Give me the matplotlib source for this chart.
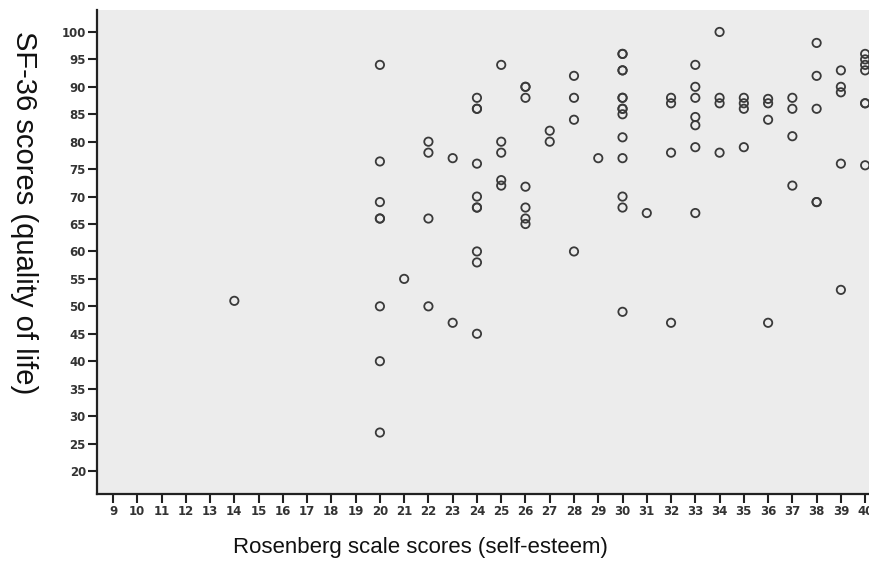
import matplotlib
matplotlib.use("Agg")
import matplotlib.pyplot as plt

plt.rcParams['font.family'] = ['Liberation Sans', 'DejaVu Sans']

# Rosenberg scale scores (x) and SF-36 scores (y), one entry per subject
rosenberg = [
    14,
    20, 20, 20, 20, 20, 20, 20, 20,
    21,
    22, 22, 22, 22,
    23, 23,
    24, 24, 24, 24, 24, 24, 24, 24, 24, 24,
    25, 25, 25, 25, 25,
    26, 26, 26, 26, 26, 26, 26,
    27, 27,
    28, 28, 28, 28,
    29,
    30, 30, 30, 30, 30, 30, 30, 30, 30, 30, 30, 30, 30, 30,
    31,
    32, 32, 32, 32,
    33, 33, 33, 33, 33, 33, 33,
    34, 34, 34, 34,
    35, 35, 35, 35,
    36, 36, 36, 36,
    37, 37, 37, 37,
    38, 38, 38, 38, 38,
    39, 39, 39, 39, 39,
    40, 40, 40, 40, 40, 40, 40,
]
sf36 = [
    51,
    94, 76.4, 69, 66, 66, 50, 40, 27,
    55,
    80, 78, 66, 50,
    77, 47,
    88, 86, 86, 76, 70, 68, 68, 60, 58, 45,
    94, 80, 78, 73, 72,
    90, 90, 88, 71.8, 68, 66, 65,
    82, 80,
    92, 88, 84, 60,
    77,
    96, 96, 93, 93, 88, 88, 86, 86, 85, 80.8, 77, 70, 68, 49,
    67,
    88, 87, 78, 47,
    94, 90, 88, 84.5, 83, 79, 67,
    100, 88, 87, 78,
    88, 87, 86, 79,
    87.8, 87, 84, 47,
    88, 86, 81, 72,
    98, 92, 86, 69, 69,
    93, 90, 89, 76, 53,
    96, 95, 94, 93, 87, 87, 75.7,
]
x_ticks = list(range(9, 41))
y_ticks = list(range(20, 101, 5))

fig = plt.figure(figsize=(8.70, 5.64), dpi=100)
ax = fig.add_axes([97/870, 70/564, 773/870, 484/564])
ax.set_facecolor('#ececec')

ax.scatter(rosenberg, sf36, s=36, facecolors='none', edgecolors='#3a3a3a',
           linewidths=1.3, zorder=3, clip_on=False)

ax.set_xlim(8.34, 40.2)
ax.set_ylim(15.8, 104)
ax.set_xticks(x_ticks)
ax.set_yticks(y_ticks)

for s in ['top', 'right']:
    ax.spines[s].set_visible(False)
for s in ['left', 'bottom']:
    ax.spines[s].set_linewidth(1.6)
    ax.spines[s].set_color('#222222')

ax.tick_params(axis='both', direction='out', length=6.5, width=1.5,
               color='#222222', labelsize=8.5, labelcolor='#333333', pad=1.5)
for lbl in ax.get_xticklabels() + ax.get_yticklabels():
    lbl.set_fontweight('bold')
    lbl.set_family('DejaVu Sans')

fig.text(420/870, 1 - 548/564, 'Rosenberg scale scores (self-esteem)',
         ha='center', va='center', fontsize=16, color='#111111')
fig.text(24/870, 1 - 213/564, 'SF-36 scores (quality of life)',
         ha='center', va='center', fontsize=21, color='#111111', rotation=-90)

fig.savefig('out.png', dpi=100)
